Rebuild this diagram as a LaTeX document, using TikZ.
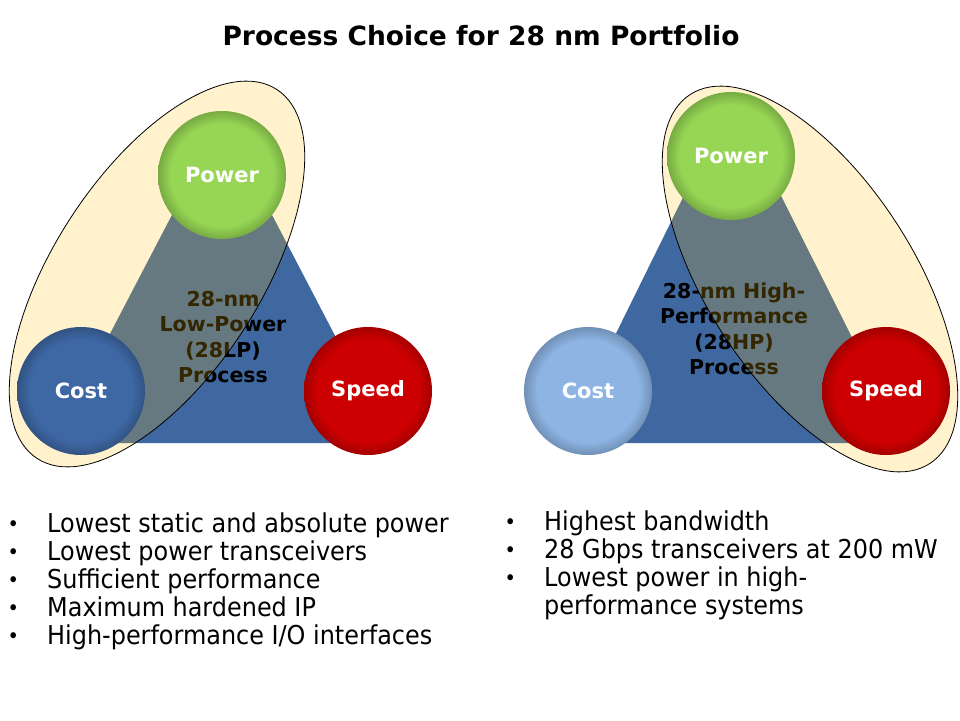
\documentclass[tikz,border=0pt]{standalone}
\usepackage{fontspec}
\setmainfont{DejaVu Sans}
\newfontfamily\listfont[FakeStretch=0.92]{DejaVu Sans}
\usepackage{tikz}
\usetikzlibrary{shapes.geometric}

\definecolor{triblue}{RGB}{64,104,160}
\definecolor{hullgold}{RGB}{255,190,0}
\definecolor{pwrgreen}{RGB}{150,214,84}
\definecolor{costblue}{RGB}{62,104,164}
\definecolor{costpale}{RGB}{141,180,227}
\definecolor{speedred}{RGB}{204,0,0}

% flat disc with a darker rim
\newcommand{\ballshading}[2]{%
  \pgfdeclareradialshading{#1}{\pgfpointorigin}{color(0bp)=(#2); color(20bp)=(#2); color(25bp)=(#2!80!black); color(50bp)=(#2!80!black)}}
\ballshading{greenball}{pwrgreen}
\ballshading{blueball}{costblue}
\ballshading{paleball}{costpale}
\ballshading{redball}{speedred}

\newcommand{\bul}{\makebox[26pt]{\fontsize{21pt}{21pt}\selectfont\raisebox{1pt}{•}}}

\begin{document}
\begin{tikzpicture}[x=1pt,y=-1pt,
  ball/.style={circle,minimum size=128pt,inner sep=0pt,text=white,
    font=\fontsize{21pt}{24pt}\selectfont\bfseries},
  hull/.style={ellipse,draw=black,line width=0.8pt,fill=hullgold,fill opacity=0.2,
    minimum width=440pt,minimum height=206pt,inner sep=0pt},
  procname/.style={align=center,inner sep=0pt,font=\fontsize{20.5pt}{25.5pt}\selectfont\bfseries},
  blist/.style={anchor=base west,inner sep=0pt,font=\listfont\fontsize{26pt}{28.2pt}\selectfont}]
  \useasboundingbox (0,0) rectangle (960,720);

  \node[anchor=base,font=\fontsize{26.5pt}{30pt}\selectfont\bfseries] (title) at (481,45)
    {Process Choice for 28 nm Portfolio};

  % 28LP
  \fill[triblue] (222,119) -- (53,443) -- (391,443) -- cycle;
  \node[procname] (lpname) at (223,337) {28-nm\\Low-Power\\(28LP)\\Process};
  \node[hull,rotate=57] (lphull) at (157,274) {};
  \node[ball,shading=greenball] (lppower) at (222,175) {Power};
  \node[ball,shading=blueball] (lpcost) at (81,391) {Cost};
  \node[ball,shading=redball] (lpspeed) at (368,391) {Speed};

  % 28HP
  \fill[triblue] (732,98) -- (562,443) -- (905,443) -- cycle;
  \node[procname] (hpname) at (734,329) {28-nm High-\\Performance\\(28HP)\\Process};
  \node[hull,rotate=123] (hphull) at (810,279) {};
  \node[ball,shading=greenball] (hppower) at (731,156) {Power};
  \node[ball,shading=paleball] (hpcost) at (588,391) {Cost};
  \node[ball,shading=redball] (hpspeed) at (886,391) {Speed};

  \node[blist] (lplist) at (0,532) {\begin{tabular}[t]{@{}l@{\hspace{21pt}}l@{}}
    \bul & Lowest static and absolute power\\
    \bul & Lowest power transceivers\\
    \bul & Sufficient performance\\
    \bul & Maximum hardened IP\\
    \bul & High-performance I/O interfaces
  \end{tabular}};
  \node[blist] (hplist) at (497,530) {\begin{tabular}[t]{@{}l@{\hspace{21pt}}l@{}}
    \bul & Highest bandwidth\\
    \bul & 28 Gbps transceivers at 200 mW\\
    \bul & Lowest power in high-\\
         & performance systems
  \end{tabular}};
\end{tikzpicture}
\end{document}
